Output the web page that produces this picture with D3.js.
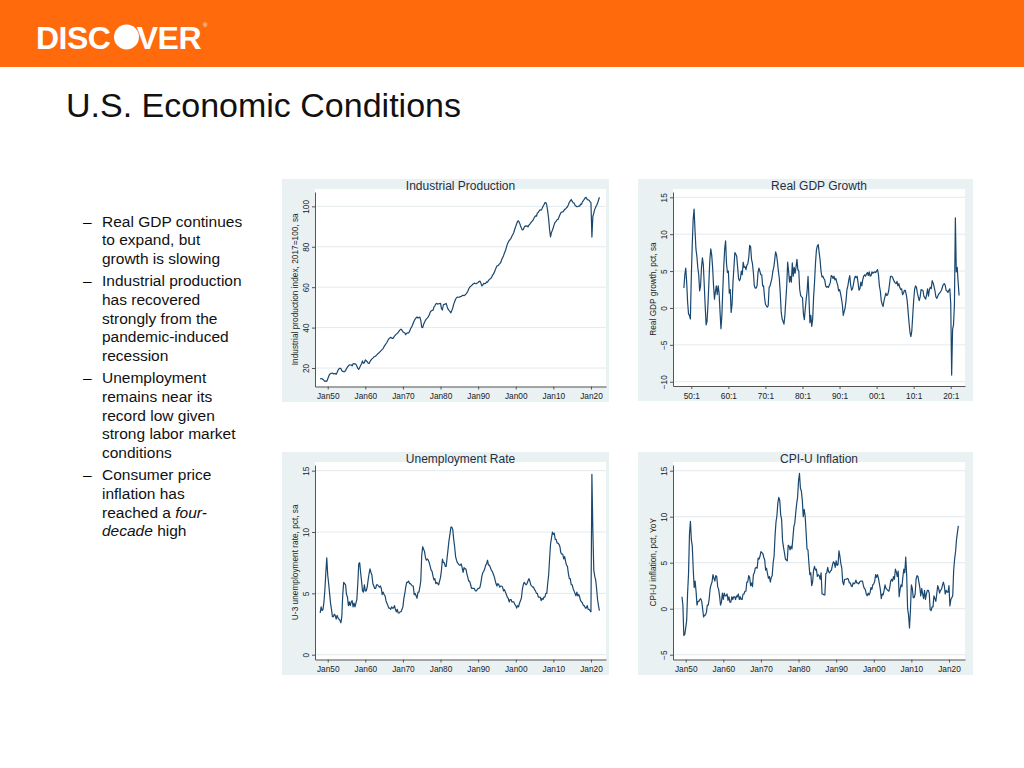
<!DOCTYPE html>
<html>
<head>
<meta charset="utf-8">
<script src="https://cdn.jsdelivr.net/npm/d3@7"></script>
<style>
  body { margin: 0; background: #fff; }
  svg { display: block; font-family: "Liberation Sans", Arial, sans-serif; }
</style>
</head>
<body>
<svg id="slide" width="1024" height="768"></svg>
<script>
// ---- data (quarterly readings, Jan/Apr/Jul/Oct) ----
const tickYears = [1950, 1960, 1970, 1980, 1990, 2000, 2010, 2020];
const monthTickLabels = ["Jan50", "Jan60", "Jan70", "Jan80", "Jan90", "Jan00", "Jan10", "Jan20"];
const quarterTickLabels = ["50:1", "60:1", "70:1", "80:1", "90:1", "00:1", "10:1", "20:1"];

const ipTicks = [20, 40, 60, 80, 100];
const gdpTicks = [-10, -5, 0, 5, 10, 15];
const urTicks = [0, 5, 10, 15];
const cpiTicks = [-5, 0, 5, 10, 15];

// industrial production index, 2017=100, from 1948q1
const ipStart = 1948;
const ipValues = [
  14.6, 14.8, 14.7, 14.3, 13.9, 13.4, 13.6, 13.4, 14.6, 15.8, 16.9, 17.2,
  17.4, 17.5, 17.1, 17.2, 17.3, 16.9, 17.8, 19.0, 19.6, 19.9, 19.7, 18.7,
  18.3, 18.2, 18.2, 18.8, 19.7, 20.5, 21.0, 21.6, 21.5, 21.6, 21.0, 22.1,
  22.2, 21.9, 21.9, 21.0, 19.8, 19.3, 20.3, 21.2, 22.1, 23.5, 22.3, 22.6,
  24.0, 23.6, 23.1, 22.4, 22.2, 23.2, 23.9, 24.5, 24.9, 25.4, 25.7, 25.9,
  26.4, 26.9, 27.3, 27.7, 28.2, 28.7, 29.2, 29.6, 30.6, 31.3, 32.0, 32.7,
  33.6, 34.4, 34.9, 35.2, 34.8, 34.6, 35.0, 35.8, 36.3, 36.8, 37.1, 37.6,
  38.4, 38.9, 39.2, 38.7, 37.9, 37.6, 37.3, 36.5, 37.2, 37.4, 37.4, 38.0,
  39.3, 40.2, 41.0, 42.3, 43.4, 44.2, 44.8, 45.3, 44.7, 45.0, 45.2, 43.6,
  40.2, 40.0, 41.6, 42.6, 43.6, 44.3, 44.7, 45.4, 46.2, 47.6, 48.2, 48.5,
  48.6, 50.1, 50.8, 51.7, 52.0, 51.6, 51.8, 51.9, 52.0, 49.4, 48.7, 51.3,
  51.5, 51.6, 52.0, 50.4, 49.1, 48.5, 48.0, 47.3, 48.4, 49.7, 51.6, 52.8,
  54.0, 54.8, 55.1, 55.0, 55.1, 55.3, 55.4, 55.8, 56.0, 55.8, 56.1, 56.6,
  57.2, 58.0, 59.1, 60.0, 60.4, 60.8, 61.3, 61.7, 62.0, 61.8, 61.7, 62.1,
  62.3, 62.8, 63.0, 61.9, 60.6, 61.1, 61.9, 61.7, 61.9, 62.6, 62.5, 63.3,
  63.9, 64.2, 64.6, 65.6, 66.3, 67.2, 68.2, 69.5, 70.5, 70.6, 71.2, 71.7,
  72.2, 73.6, 74.6, 75.6, 76.9, 78.0, 79.6, 81.2, 82.2, 83.1, 83.6, 84.2,
  85.3, 86.2, 87.2, 88.8, 90.1, 91.4, 92.6, 92.8, 91.8, 90.5, 89.3, 88.3,
  88.6, 89.6, 90.3, 90.1, 90.4, 89.8, 90.7, 91.2, 91.8, 92.4, 92.9, 93.7,
  94.7, 95.3, 95.1, 96.7, 97.0, 97.8, 98.3, 98.1, 98.9, 99.9, 100.8, 101.8,
  101.9, 100.6, 97.5, 93.8, 88.4, 84.9, 87.1, 88.2, 89.5, 91.2, 92.2, 92.6,
  93.4, 93.5, 94.7, 95.8, 96.8, 97.2, 97.2, 97.7, 98.5, 98.7, 99.3, 99.8,
  100.8, 102.0, 102.7, 103.4, 102.6, 101.8, 101.6, 100.6, 100.2, 99.8, 99.9, 100.1,
  100.1, 101.1, 101.0, 102.2, 102.9, 103.6, 104.3, 104.4, 103.4, 103.2, 103.0, 102.3,
  101.8, 84.8, 95.0, 96.6, 98.5, 99.6, 100.4, 101.5, 103.0, 104.5
];

// real GDP growth, pct y/y, from 1948q1
const gdpStart = 1948;
const gdpValues = [
  2.7, 4.5, 5.4, 3.5, 0.8, -0.8, -1.0, -1.5, 4.2, 8.5, 12.0, 13.4,
  10.5, 8.0, 7.0, 5.5, 4.5, 2.3, 3.0, 5.5, 6.8, 5.8, 3.0, 0.2,
  -2.3, -1.8, 0.5, 3.5, 6.5, 8.0, 7.2, 5.5, 3.0, 1.2, 2.2, 3.0,
  1.8, 3.0, 2.0, -0.5, -2.8, -1.0, 2.5, 5.5, 8.0, 9.1, 6.0, 4.8,
  5.0, 2.0, 2.5, -0.6, 0.5, 3.5, 5.5, 7.5, 7.3, 7.0, 5.5, 4.0,
  3.7, 4.0, 5.0, 4.5, 6.2, 5.5, 5.6, 5.2, 5.8, 6.0, 6.8, 8.5,
  8.3, 6.6, 6.0, 4.8, 3.0, 2.7, 2.7, 3.0, 4.8, 5.4, 5.0, 4.5,
  4.5, 3.0, 3.0, 1.5, 0.5, 0.3, 0.1, 0.3, 2.8, 3.0, 3.5, 4.0,
  5.0, 5.5, 6.5, 7.6, 7.2, 6.2, 5.0, 4.0, 2.0, -0.5, -1.5, -1.8,
  -2.2, -1.0, 1.0, 3.0, 6.2, 5.0, 3.5, 4.3, 3.5, 6.1, 4.3, 5.5,
  4.7, 5.5, 6.6, 5.2, 5.0, 2.5, 1.7, 1.5, 1.4, -0.8, -1.6, -0.1,
  1.2, 2.3, 4.3, 1.3, -2.0, -1.0, -2.5, -1.5, 1.5, 3.5, 6.0, 7.8,
  8.4, 8.6, 7.5, 6.5, 5.0, 4.2, 4.3, 4.0, 3.8, 3.0, 2.8, 2.9,
  2.8, 3.1, 3.4, 4.4, 4.3, 4.0, 4.3, 3.8, 4.0, 3.5, 3.1, 2.3,
  2.5, 2.0, 1.3, 0.5, -1.0, -0.5, 0.0, 1.0, 2.5, 3.0, 3.8, 4.4,
  3.1, 2.4, 2.6, 3.2, 3.9, 4.3, 4.1, 4.3, 3.4, 2.4, 2.6, 3.5,
  3.0, 3.8, 4.3, 4.5, 4.3, 4.6, 4.8, 4.4, 4.9, 4.3, 4.4, 4.9,
  4.7, 4.8, 4.9, 4.8, 5.0, 5.2, 4.5, 3.0, 2.3, 1.0, 0.5, 0.2,
  1.0, 1.5, 2.0, 1.7, 1.8, 2.3, 3.3, 4.3, 4.3, 4.2, 3.9, 3.6,
  3.4, 3.3, 3.6, 3.0, 3.3, 2.8, 2.5, 2.6, 1.8, 2.0, 2.4, 2.4,
  1.8, 1.0, -0.5, -2.0, -3.3, -3.9, -3.1, -1.0, 1.0, 2.5, 3.0, 2.8,
  2.0, 1.5, 1.0, 1.5, 2.5, 2.4, 2.4, 1.6, 1.4, 1.2, 1.8, 2.6,
  1.6, 2.5, 2.8, 2.6, 3.7, 3.4, 2.9, 2.3, 1.5, 1.3, 1.6, 1.9,
  2.0, 2.2, 2.4, 2.8, 3.2, 3.3, 3.1, 2.4, 2.3, 2.1, 2.4, 2.6,
  0.6, -9.1, -2.9, -2.3, 0.5, 12.2, 4.9, 5.5, 3.5, 1.7
];

// U-3 unemployment rate, pct, from Jan 1948
const urStart = 1948;
const urValues = [
  3.4, 3.9, 3.6, 3.7, 4.3, 5.3, 6.7, 7.9, 6.5, 5.8, 5.0, 4.2,
  3.7, 3.1, 3.1, 3.3, 3.2, 2.9, 3.2, 3.0, 2.9, 2.8, 2.6, 3.1,
  4.9, 5.9, 5.8, 5.7, 4.9, 4.7, 4.0, 4.3, 4.0, 4.3, 4.4, 3.9,
  4.2, 3.9, 4.2, 4.5, 5.8, 7.4, 7.5, 6.7, 6.0, 5.2, 5.1, 5.7,
  5.2, 5.2, 5.5, 6.1, 6.6, 7.0, 6.7, 6.5, 5.8, 5.6, 5.4, 5.4,
  5.7, 5.7, 5.6, 5.5, 5.6, 5.4, 4.9, 5.1, 4.9, 4.8, 4.4, 4.2,
  4.0, 3.8, 3.8, 3.7, 3.9, 3.8, 3.8, 4.0, 3.7, 3.5, 3.7, 3.4,
  3.4, 3.5, 3.5, 3.7, 3.9, 4.6, 5.0, 5.5, 5.9, 5.9, 6.0, 5.8,
  5.8, 5.7, 5.6, 5.6, 4.9, 5.0, 4.8, 4.6, 5.1, 5.1, 5.5, 6.0,
  8.1, 8.8, 8.6, 8.4, 7.9, 7.7, 7.8, 7.7, 7.5, 7.2, 6.9, 6.8,
  6.4, 6.1, 6.2, 5.8, 5.9, 5.8, 5.7, 6.0, 6.3, 6.9, 7.8, 7.5,
  7.5, 7.2, 7.2, 7.9, 8.6, 9.3, 9.8, 10.4, 10.4, 10.2, 9.4, 8.8,
  8.0, 7.7, 7.5, 7.4, 7.3, 7.3, 7.4, 7.1, 6.7, 7.1, 7.0, 7.0,
  6.6, 6.3, 6.0, 6.0, 5.7, 5.4, 5.4, 5.4, 5.4, 5.2, 5.2, 5.3,
  5.4, 5.4, 5.5, 5.9, 6.4, 6.7, 6.8, 7.0, 7.3, 7.4, 7.7, 7.3,
  7.3, 7.1, 6.9, 6.8, 6.6, 6.4, 6.1, 5.8, 5.6, 5.8, 5.7, 5.5,
  5.6, 5.6, 5.5, 5.2, 5.3, 5.1, 4.9, 4.7, 4.6, 4.3, 4.5, 4.5,
  4.3, 4.3, 4.3, 4.1, 4.0, 3.8, 4.0, 3.9, 4.2, 4.4, 4.6, 5.3,
  5.7, 5.9, 5.8, 5.7, 5.8, 6.0, 6.2, 6.0, 5.7, 5.6, 5.5, 5.5,
  5.3, 5.2, 5.0, 5.0, 4.7, 4.7, 4.7, 4.4, 4.6, 4.5, 4.7, 4.7,
  5.0, 5.0, 5.8, 6.5, 7.8, 9.0, 9.5, 10.0, 9.8, 9.9, 9.4, 9.4,
  9.1, 9.1, 9.0, 8.8, 8.3, 8.2, 8.2, 7.8, 8.0, 7.6, 7.3, 7.2,
  6.6, 6.2, 6.2, 5.7, 5.7, 5.4, 5.2, 5.0, 4.8, 5.1, 4.8, 4.9,
  4.7, 4.4, 4.3, 4.2, 4.0, 4.0, 3.8, 3.8, 4.0, 3.7, 3.7, 3.6,
  3.5, 14.7, 10.2, 6.9, 6.4, 6.1, 5.4, 4.5, 4.0, 3.6
];

// CPI-U inflation, pct y/y, from Jan 1949
const cpiStart = 1949;
const cpiValues = [
  1.3, 0.4, -2.9, -2.8, -2.1, -1.3, 1.7, 3.8, 8.1, 9.5, 7.5, 6.8,
  4.3, 2.3, 3.0, 1.9, 0.4, 0.8, 0.8, 1.0, 1.1, 0.8, 0.0, -0.9,
  -0.7, -0.7, -0.4, 0.4, 0.4, 1.1, 2.2, 2.6, 2.9, 3.7, 3.3, 3.0,
  3.6, 3.5, 2.4, 2.1, 1.4, 0.4, 0.7, 1.7, 1.0, 1.7, 1.4, 1.4,
  1.6, 0.9, 1.3, 0.7, 0.7, 1.3, 1.0, 1.3, 1.3, 1.0, 1.4, 1.3,
  1.6, 1.0, 1.3, 1.0, 1.0, 1.6, 1.6, 1.9, 1.9, 2.9, 2.9, 3.6,
  3.4, 2.5, 2.8, 2.4, 3.7, 3.9, 4.4, 4.5, 4.4, 5.5, 5.4, 5.7,
  6.2, 6.1, 6.0, 5.6, 5.3, 4.2, 4.4, 3.8, 3.3, 3.5, 2.9, 3.4,
  3.6, 5.0, 5.7, 7.9, 9.4, 10.1, 11.5, 12.1, 11.8, 10.2, 9.7, 7.4,
  6.7, 6.1, 5.4, 5.3, 5.2, 6.9, 6.8, 6.4, 6.8, 6.5, 7.7, 8.9,
  9.3, 10.4, 11.4, 12.1, 13.9, 14.7, 13.1, 12.8, 11.8, 10.0, 10.8, 10.1,
  8.4, 6.5, 6.4, 5.0, 3.7, 3.9, 2.5, 2.9, 4.2, 4.6, 4.2, 4.3,
  3.5, 3.7, 3.6, 3.2, 3.9, 1.6, 1.6, 1.5, 1.5, 3.8, 3.9, 4.5,
  4.0, 3.9, 4.1, 4.2, 4.7, 5.1, 5.0, 4.5, 5.2, 4.7, 4.8, 6.3,
  5.7, 4.9, 4.4, 2.9, 2.6, 3.2, 3.2, 3.2, 3.3, 3.2, 2.8, 2.8,
  2.5, 2.4, 2.8, 2.7, 2.8, 3.1, 2.8, 2.8, 2.7, 2.9, 3.0, 3.0,
  3.0, 2.5, 2.2, 2.1, 1.6, 1.4, 1.7, 1.5, 1.7, 2.3, 2.1, 2.6,
  2.7, 3.0, 3.7, 3.4, 3.7, 3.3, 2.7, 2.1, 1.1, 1.6, 1.5, 2.0,
  2.6, 2.2, 2.1, 2.0, 1.9, 2.3, 3.0, 3.2, 3.0, 3.5, 3.2, 4.3,
  4.0, 3.5, 4.1, 1.3, 2.1, 2.6, 2.4, 3.5, 4.3, 3.9, 5.6, 3.7,
  0.0, -0.7, -2.1, -0.2, 2.6, 2.2, 1.2, 1.2, 1.6, 3.2, 3.6, 3.5,
  2.9, 2.3, 1.4, 2.2, 1.6, 1.1, 2.0, 1.0, 1.6, 2.0, 2.0, 1.7,
  -0.1, -0.2, 0.2, 0.2, 1.4, 1.1, 0.8, 1.6, 2.5, 2.2, 1.7, 2.0,
  2.1, 2.5, 2.9, 2.5, 1.6, 2.0, 1.8, 1.8, 2.5, 0.3, 1.0, 1.2,
  1.4, 4.2, 5.4, 6.2, 7.5, 8.3, 9.0
];

const bullets = [
  ["Real GDP continues", "to expand, but", "growth is slowing"],
  ["Industrial production", "has recovered", "strongly from the", "pandemic-induced", "recession"],
  ["Unemployment", "remains near its", "record low given", "strong labor market", "conditions"],
  ["Consumer price", "inflation has", "reached a <i>four-</i>", "<i>decade</i> high"]
];

// ---- layout ----
const svg = d3.select("#slide");
const PANEL_BG = "#eaf1f3";
const LINE_COLOR = "#1a476f";
const TICK_TEXT = "#222";

// header bar + logo
svg.append("rect").attr("x", 0).attr("y", 0).attr("width", 1024).attr("height", 67).attr("fill", "#ff6a0c");
const logo = svg.append("g").attr("fill", "#fff").style("font-weight", "bold").style("font-size", "32px");
logo.append("text").attr("x", 36).attr("y", 48.5).attr("letter-spacing", "-0.5").text("DISC");
logo.append("circle").attr("cx", 126.5).attr("cy", 37).attr("r", 12.5);
logo.append("text").attr("x", 201).attr("y", 48.5).attr("text-anchor", "end").attr("letter-spacing", "-0.5").text("VER");
logo.append("text").attr("x", 203).attr("y", 27).style("font-size", "6px").style("font-weight", "normal").text("®");

// slide title
svg.append("text").attr("x", 66).attr("y", 117).style("font-size", "34px").attr("fill", "#111")
  .text("U.S. Economic Conditions");

// bullet list
let by = 226.5;
bullets.forEach(lines => {
  svg.append("text").attr("x", 83).attr("y", by).style("font-size", "15.5px").text("\u2013");
  lines.forEach((ln, i) => {
    const t = svg.append("text").attr("x", 102).attr("y", by + i * 18.75).style("font-size", "15.5px").attr("fill", "#111");
    // split on italics markers
    ln.split(/(<i>.*?<\/i>)/).filter(s => s).forEach(part => {
      if (part.startsWith("<i>")) t.append("tspan").style("font-style", "italic").text(part.slice(3, -4));
      else t.append("tspan").text(part);
    });
  });
  by += lines.length * 18.75 + 3.25;
});

const panels = [
  { title: "Industrial Production", yLabel: "Industrial production index, 2017=100, sa",
    box: [282, 179, 327, 223], plot: [315, 192, 606, 386.5],
    xDomain: [1946.62, 2024.0], yDomain: [10.85, 107.1],
    yTicks: ipTicks, xLabels: monthTickLabels, start: ipStart, values: ipValues },
  { title: "Real GDP Growth", yLabel: "Real GDP growth, pct, sa",
    box: [638, 179, 335, 222], plot: [673, 192, 965, 386],
    xDomain: [1945.06, 2023.85], yDomain: [-10.58, 15.72],
    yTicks: gdpTicks, xLabels: quarterTickLabels, start: gdpStart, values: gdpValues },
  { title: "Unemployment Rate", yLabel: "U-3 unemployment rate, pct, sa",
    box: [282, 452, 327, 223], plot: [315, 465, 606, 659.5],
    xDomain: [1946.62, 2024.0], yDomain: [-0.39, 15.46],
    yTicks: urTicks, xLabels: monthTickLabels, start: urStart, values: urValues },
  { title: "CPI-U Inflation", yLabel: "CPI-U inflation, pct, YoY",
    box: [638, 452, 335, 223], plot: [673, 465, 965, 659.5],
    xDomain: [1946.62, 2024.26], yDomain: [-5.52, 15.62],
    yTicks: cpiTicks, xLabels: monthTickLabels, start: cpiStart, values: cpiValues }
];

function drawPanel(p) {
  const g = svg.append("g");
  const [l, t, r, b] = p.plot;

  g.append("rect").attr("x", p.box[0]).attr("y", p.box[1])
    .attr("width", p.box[2]).attr("height", p.box[3]).attr("fill", PANEL_BG);
  g.append("rect").attr("x", l).attr("y", t - 3).attr("width", r - l).attr("height", b - t + 3).attr("fill", "#fff");

  const x = d3.scaleLinear().domain(p.xDomain).range([l, r]);
  const y = d3.scaleLinear().domain(p.yDomain).range([b, t]);

  // gridlines
  g.append("g").selectAll("line").data(p.yTicks).join("line")
    .attr("x1", l).attr("x2", r)
    .attr("y1", d => y(d)).attr("y2", d => y(d))
    .attr("stroke", "#e3eaec").attr("stroke-width", 1);

  // title
  g.append("text").attr("x", (l + r) / 2).attr("y", p.box[1] + 10.5)
    .attr("text-anchor", "middle").style("font-size", "12px").attr("fill", "#1f2f3f")
    .text(p.title);

  // y axis
  const ya = g.append("g").attr("transform", `translate(${l},0)`)
    .call(d3.axisLeft(y).tickValues(p.yTicks).tickSize(3).tickSizeOuter(0));
  ya.selectAll("text").attr("x", null).attr("dy", null)
    .attr("text-anchor", "middle")
    .attr("transform", "translate(-6.5,0) rotate(-90)")
    .style("font-size", "8.3px").attr("fill", TICK_TEXT);

  // x axis
  const xa = g.append("g").attr("transform", `translate(0,${b})`)
    .call(d3.axisBottom(x).tickValues(tickYears).tickFormat((d, i) => p.xLabels[i])
      .tickSize(3).tickSizeOuter(0).tickPadding(4));
  xa.selectAll("text").style("font-size", "8.3px").attr("fill", TICK_TEXT);

  [ya, xa].forEach(a => {
    a.select(".domain").attr("stroke", "#555");
    a.selectAll(".tick line").attr("stroke", "#555");
    a.style("font-family", "'Liberation Sans', Arial, sans-serif");
  });

  // y axis title
  g.append("text")
    .attr("transform", `translate(${l - 17},${(t + b) / 2}) rotate(-90)`)
    .attr("text-anchor", "middle").style("font-size", "8.3px").attr("fill", TICK_TEXT)
    .text(p.yLabel);

  // series line
  const line = d3.line()
    .x((d, i) => x(p.start + i / 4))
    .y(d => y(d));
  g.append("path").datum(p.values)
    .attr("d", line).attr("fill", "none")
    .attr("stroke", LINE_COLOR).attr("stroke-width", 1.2)
    .attr("stroke-linejoin", "round");
}

panels.forEach(drawPanel);
</script>
</body>
</html>
